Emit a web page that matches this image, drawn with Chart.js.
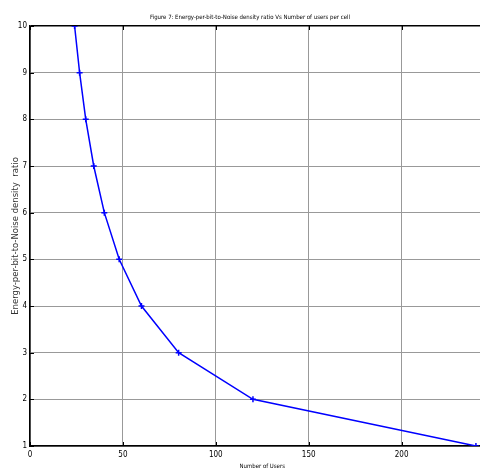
<!DOCTYPE html>
<html>
<head>
<meta charset="utf-8">
<script src="https://cdn.jsdelivr.net/npm/chart.js@4"></script>
<style>
  html, body { margin: 0; padding: 0; background: #fff; overflow: hidden; }
  #wrap { width: 500px; height: 478px; }
</style>
</head>
<body>
<div id="wrap"><canvas id="lineChart" width="500" height="478"></canvas></div>
<script>
// users per cell vs Eb/No
const users = [24, 26.7, 30, 34.3, 40, 48, 60, 80, 120, 240];
const ebno = [10, 9, 8, 7, 6, 5, 4, 3, 2, 1];
const xTicks = [0, 50, 100, 150, 200];
const yTicks = [1, 2, 3, 4, 5, 6, 7, 8, 9, 10];

const narrow = "'Liberation Sans Narrow', 'Arial Narrow', 'DejaVu Sans Condensed', sans-serif";

// small black tick marks on the inside of the box, like matlab
const tickMarks = {
  id: 'tickMarks',
  afterDatasetsDraw(chart) {
    const c = chart.ctx, a = chart.chartArea;
    const xs = chart.scales.x, ys = chart.scales.y;
    c.save();
    c.strokeStyle = '#000';
    c.lineWidth = 1;
    c.beginPath();
    xTicks.forEach(v => {
      const px = Math.round(xs.getPixelForValue(v)) + 0.5;
      c.moveTo(px, a.bottom); c.lineTo(px, a.bottom - 4);
      c.moveTo(px, a.top); c.lineTo(px, a.top + 4);
    });
    yTicks.forEach(v => {
      const py = Math.round(ys.getPixelForValue(v)) + 0.5;
      c.moveTo(a.left, py); c.lineTo(a.left + 4, py);
    });
    c.stroke();
    c.restore();
  }
};

const ctx = document.getElementById('lineChart').getContext('2d');

const data = {
  datasets: [{
    label: 'Eb/No',
    data: users.map((u, i) => ({ x: u, y: ebno[i] })),
    borderColor: '#0000ff',
    backgroundColor: '#0000ff',
    borderWidth: 1.5,
    pointStyle: 'cross',
    pointRadius: 3,
    pointBorderWidth: 1.5,
    tension: 0
  }]
};

const config = {
  type: 'line',
  data: data,
  plugins: [tickMarks],
  options: {
    responsive: false,
    animation: false,
    layout: { padding: 0 },
    plugins: {
      legend: { display: false },
      tooltip: { enabled: false },
      title: {
        display: true,
        text: 'Figure 7: Energy-per-bit-to-Noise density ratio Vs Number of users per cell',
        color: '#000',
        font: { family: narrow, size: 6, weight: 'normal' },
        padding: { top: 13.5, bottom: 5.3 }
      }
    },
    scales: {
      x: {
        type: 'linear',
        min: 0,
        max: 250,
        afterFit: s => { s.height = 32; },
        afterBuildTicks: s => { s.ticks = xTicks.concat([250]).map(v => ({ value: v })); },
        ticks: {
          autoSkip: false,
          maxRotation: 0,
          padding: 4,
          color: '#000',
          font: { family: narrow, size: 8 },
          callback: v => (v === 250 ? '' : v)
        },
        grid: { color: '#999', lineWidth: 1, drawTicks: false },
        border: { color: '#000', width: 1.5 },
        title: {
          display: true,
          text: 'Number of Users',
          color: '#000',
          font: { family: narrow, size: 6 },
          padding: { top: 0, bottom: 8.4 }
        }
      },
      y: {
        type: 'linear',
        min: 1,
        max: 10,
        afterFit: s => { s.width = 30; },
        afterBuildTicks: s => { s.ticks = yTicks.map(v => ({ value: v })); },
        ticks: {
          padding: 3,
          color: '#000',
          font: { family: narrow, size: 8 }
        },
        grid: {
          color: c => (c.tick && c.tick.value === 10 ? '#000' : '#999'),
          lineWidth: c => (c.tick && c.tick.value === 10 ? 1.5 : 1),
          drawTicks: false
        },
        border: { color: '#000', width: 1.5 },
        title: {
          display: true,
          text: 'Energy-per-bit-to-Noise density  ratio',
          color: '#333',
          font: { family: "'DejaVu Sans', sans-serif", size: 8.5 },
          padding: { top: 11, bottom: 0 }
        }
      }
    }
  }
};
new Chart(ctx, config);
</script>
</body>
</html>
